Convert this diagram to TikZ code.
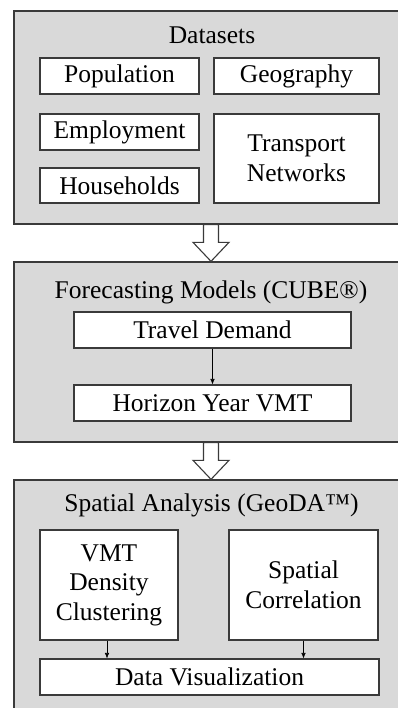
\documentclass[tikz,border=0pt]{standalone}
\usepackage{fontspec}
\setmainfont{Liberation Serif}
\usetikzlibrary{calc,arrows.meta}
\definecolor{panelgray}{HTML}{D9D9D9}
\definecolor{edgegray}{HTML}{3A3A3A}
\begin{document}
\begin{tikzpicture}[x=1pt,y=-1pt,
  txt/.style={font=\fontsize{25.5}{29.5}\selectfont},
  panel/.style={draw=edgegray, line width=1.3pt, fill=panelgray, inner sep=0pt, minimum width=396pt},
  ibox/.style={txt, draw=edgegray, line width=1.1pt, fill=white, inner sep=0pt, align=center},
  ttl/.style={txt, inner sep=0pt},
  blockarrow/.style={draw=edgegray, fill=white, line width=1.1pt, line join=miter},
  link/.style={-{Latex[length=5.5pt,width=4.5pt]}, draw=black, line width=0.6pt}]
\useasboundingbox (0,0) rectangle (398,708);

% panels
\node[panel, minimum height=213pt] (p1) at (212,117.5) {};
\node[panel, minimum height=180pt] (p2) at (212,352) {};
\node[panel, minimum height=250pt] (p3) at (212,605) {};

% panel 1
\node[ttl] (t1) at (212,35) {Datasets};
\node[ibox, minimum width=159pt, minimum height=36pt] (pop) at (119.5,76) {Population};
\node[ibox, minimum width=165pt, minimum height=36pt] (geo) at (296.5,76) {Geography};
\node[ibox, minimum width=159pt, minimum height=36pt] (emp) at (119.5,132) {Employment};
\node[ibox, minimum width=159pt, minimum height=35pt] (hh) at (119.5,185.5) {Households};
\node[ibox, minimum width=165pt, minimum height=89pt] (tn) at (296.5,158.5) {Transport\\Networks};

% panel 2
\node[ttl] (t2) at (211,292) {Forecasting Models (CUBE®)};
\node[ibox, minimum width=277pt, minimum height=36pt] (td) at (212.5,330) {Travel Demand};
\node[ibox, minimum width=277pt, minimum height=36pt] (hy) at (212.5,403) {Horizon Year VMT};
\draw[link] (td.south) -- (hy.north);

% panel 3
\node[ttl] (t3) at (211.5,505) {Spatial Analysis (GeoDA™)};
\node[ibox, minimum width=138pt, minimum height=110pt] (vmt) at (109,585) {VMT\\Density\\Clustering};
\node[ibox, minimum width=149pt, minimum height=110pt] (sc) at (303.5,585) {Spatial\\Correlation};
\node[ibox, minimum width=339pt, minimum height=36pt] (dv) at (209.5,677) {Data Visualization};
\draw[link] ([xshift=-2pt]vmt.south) -- ([xshift=-2pt]vmt.south |- dv.north);
\draw[link] (sc.south) -- (sc.south |- dv.north);

% block arrows
\coordinate (a1s) at ($(p1.south)+(-1,0)$);
\coordinate (a1e) at ($(p2.north)+(-1,0)$);
\coordinate (a2s) at ($(p2.south)+(-1,0)$);
\coordinate (a2e) at ($(p3.north)+(-1,0)$);
\foreach \s/\e in {a1s/a1e, a2s/a2e}{
  \draw[blockarrow] ($(\s)+(-7.5,0)$) -- ($(\e)+(-7.5,-19)$) -- ($(\e)+(-18,-19)$) -- (\e)
     -- ($(\e)+(18,-19)$) -- ($(\e)+(7.5,-19)$) -- ($(\s)+(7.5,0)$) -- cycle;
}
\end{tikzpicture}
\end{document}
